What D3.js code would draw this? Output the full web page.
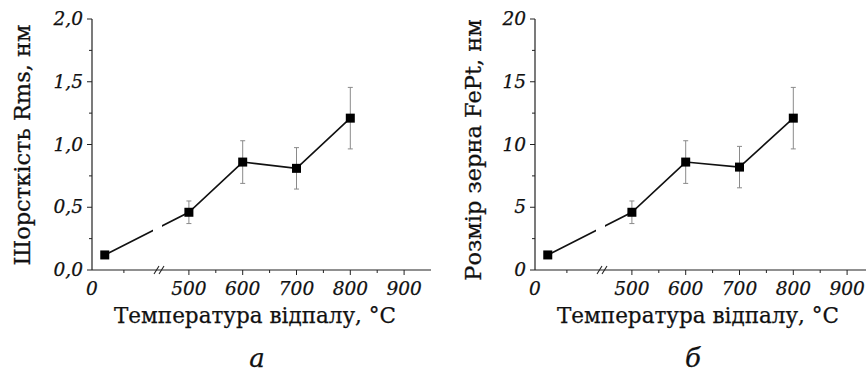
<!DOCTYPE html>
<html>
<head>
<meta charset="utf-8">
<script src="https://cdn.jsdelivr.net/npm/d3@7/dist/d3.min.js"></script>
<style>
  body { margin: 0; background: #fff; }
  svg { display: block; }
  text { font-family: "DejaVu Serif", serif; fill: #111; stroke: #111; stroke-width: 0.25px; }
</style>
</head>
<body>
<script>
// Annealing temperature (first point is room temperature)
const temps = [20, 500, 600, 700, 800];

// Panel a: roughness Rms, nm
const rms = [0.12, 0.46, 0.86, 0.81, 1.21];
const rmsErr = [0, 0.09, 0.17, 0.165, 0.245];
const rmsTicks = [0, 0.5, 1.0, 1.5, 2.0];
const rmsTickLabels = ["0,0", "0,5", "1,0", "1,5", "2,0"];

// Panel b: FePt grain size, nm
const grain = [1.2, 4.6, 8.6, 8.2, 12.1];
const grainErr = [0, 0.9, 1.7, 1.65, 2.45];
const grainTicks = [0, 5, 10, 15, 20];
const grainTickLabels = ["0", "5", "10", "15", "20"];

const xTicks = [0, 500, 600, 700, 800, 900];
const xMinorTicks = [50, 550, 650, 750, 850];

const width = 866, height = 374;

const svg = d3.select("body").append("svg")
    .attr("width", width)
    .attr("height", height);

const drawPanel = (opts) => {

    const plotH = 251;
    const g = svg.append("g")
        .attr("transform", "translate(" + opts.left + "," + opts.top + ")");

    // broken x axis: short left piece, gap, then 450..950
    const x = d3.scaleLinear()
        .domain([0, 105, 450, 950])
        .range([0, 67, 70, 339]);

    const y = d3.scaleLinear()
        .domain([0, 2 * opts.ticks[2]])
        .range([plotH, 0]);

    const pts = temps.map((t, i) => ({ t: t, v: opts.values[i], e: opts.errors[i] }));

    // error bars
    const eb = g.selectAll("g.err")
        .data(pts.filter((d) => d.e > 0))
        .enter().append("g")
        .attr("class", "err")
        .attr("stroke", "#8a8a8a")
        .attr("stroke-width", 1);

    eb.append("line")
        .attr("x1", (d) => x(d.t)).attr("x2", (d) => x(d.t))
        .attr("y1", (d) => y(d.v + d.e)).attr("y2", (d) => y(d.v - d.e));
    eb.append("line")
        .attr("x1", (d) => x(d.t) - 2.5).attr("x2", (d) => x(d.t) + 2.5)
        .attr("y1", (d) => y(d.v + d.e)).attr("y2", (d) => y(d.v + d.e));
    eb.append("line")
        .attr("x1", (d) => x(d.t) - 2.5).attr("x2", (d) => x(d.t) + 2.5)
        .attr("y1", (d) => y(d.v - d.e)).attr("y2", (d) => y(d.v - d.e));

    // connecting line
    const line = d3.line()
        .x((d) => x(d.t))
        .y((d) => y(d.v));

    g.append("path")
        .datum(pts)
        .attr("fill", "none")
        .attr("stroke", "#111")
        .attr("stroke-width", 1.6)
        .attr("d", line);

    // gap in the line at the axis break
    g.append("rect")
        .attr("x", 61).attr("y", 0)
        .attr("width", 9).attr("height", plotH - 3)
        .attr("fill", "#fff");

    // square markers
    g.selectAll("rect.pt")
        .data(pts)
        .enter().append("rect")
        .attr("class", "pt")
        .attr("x", (d) => x(d.t) - 4.5)
        .attr("y", (d) => y(d.v) - 4.5)
        .attr("width", 9).attr("height", 9)
        .attr("fill", "#000");

    // x axis
    const xAxis = g.append("g")
        .attr("transform", "translate(0," + plotH + ")");

    xAxis.append("line")
        .attr("x1", 0).attr("x2", opts.axisLen)
        .attr("stroke", "#222").attr("stroke-width", 1.2);

    xAxis.selectAll("line.major")
        .data(xTicks.slice(1))
        .enter().append("line")
        .attr("class", "major")
        .attr("x1", (d) => x(d)).attr("x2", (d) => x(d))
        .attr("y1", 0).attr("y2", 5)
        .attr("stroke", "#222");

    xAxis.selectAll("line.minor")
        .data(xMinorTicks)
        .enter().append("line")
        .attr("class", "minor")
        .attr("x1", (d) => x(d)).attr("x2", (d) => x(d))
        .attr("y1", 0).attr("y2", 3)
        .attr("stroke", "#222");

    xAxis.selectAll("text")
        .data(xTicks)
        .enter().append("text")
        .attr("x", (d) => x(d))
        .attr("y", 25)
        .attr("text-anchor", "middle")
        .attr("font-style", "italic")
        .attr("font-size", 18.5)
        .text((d) => d);

    // break marks
    [65, 70].forEach((bx) => {
        xAxis.append("line")
            .attr("x1", bx - 3).attr("x2", bx + 2)
            .attr("y1", 4).attr("y2", -4)
            .attr("stroke", "#222").attr("stroke-width", 1.1);
    });

    // y axis
    const yAxis = g.append("g");

    yAxis.append("line")
        .attr("y1", 0).attr("y2", plotH)
        .attr("stroke", "#222").attr("stroke-width", 1.2);

    yAxis.selectAll("line.major")
        .data(opts.ticks)
        .enter().append("line")
        .attr("class", "major")
        .attr("x1", -5).attr("x2", 0)
        .attr("y1", (d) => y(d)).attr("y2", (d) => y(d))
        .attr("stroke", "#222");

    yAxis.selectAll("line.minor")
        .data(opts.ticks.slice(1).map((d, i) => (d + opts.ticks[i]) / 2))
        .enter().append("line")
        .attr("class", "minor")
        .attr("x1", -3).attr("x2", 0)
        .attr("y1", (d) => y(d)).attr("y2", (d) => y(d))
        .attr("stroke", "#222");

    yAxis.selectAll("text")
        .data(opts.ticks)
        .enter().append("text")
        .attr("x", -9)
        .attr("y", (d) => y(d) + 6)
        .attr("text-anchor", "end")
        .attr("font-style", "italic")
        .attr("font-size", 18.5)
        .text((d, i) => opts.tickLabels[i]);

    // axis titles
    g.append("text")
        .attr("x", 163)
        .attr("y", plotH + 53)
        .attr("text-anchor", "middle")
        .attr("font-size", 21.5)
        .text("Температура відпалу, °С");

    g.append("text")
        .attr("transform", "translate(" + opts.yTitleX + "," + opts.yTitleY + ") rotate(-90)")
        .attr("text-anchor", "middle")
        .attr("font-size", 22.5)
        .text(opts.yTitle);

    // panel letter
    g.append("text")
        .attr("x", opts.letterX)
        .attr("y", plotH + 97)
        .attr("text-anchor", "middle")
        .attr("font-style", "italic")
        .attr("font-size", 26)
        .text(opts.letter);
}

drawPanel({
    left: 92, top: 19, axisLen: 339,
    values: rms, errors: rmsErr,
    ticks: rmsTicks, tickLabels: rmsTickLabels,
    yTitle: "Шорсткість Rms, нм", yTitleX: -62, yTitleY: 126,
    letter: "а", letterX: 165
});

drawPanel({
    left: 535, top: 19, axisLen: 331,
    values: grain, errors: grainErr,
    ticks: grainTicks, tickLabels: grainTickLabels,
    yTitle: "Розмір зерна FePt, нм", yTitleX: -54, yTitleY: 131,
    letter: "б", letterX: 158
});
</script>
</body>
</html>
